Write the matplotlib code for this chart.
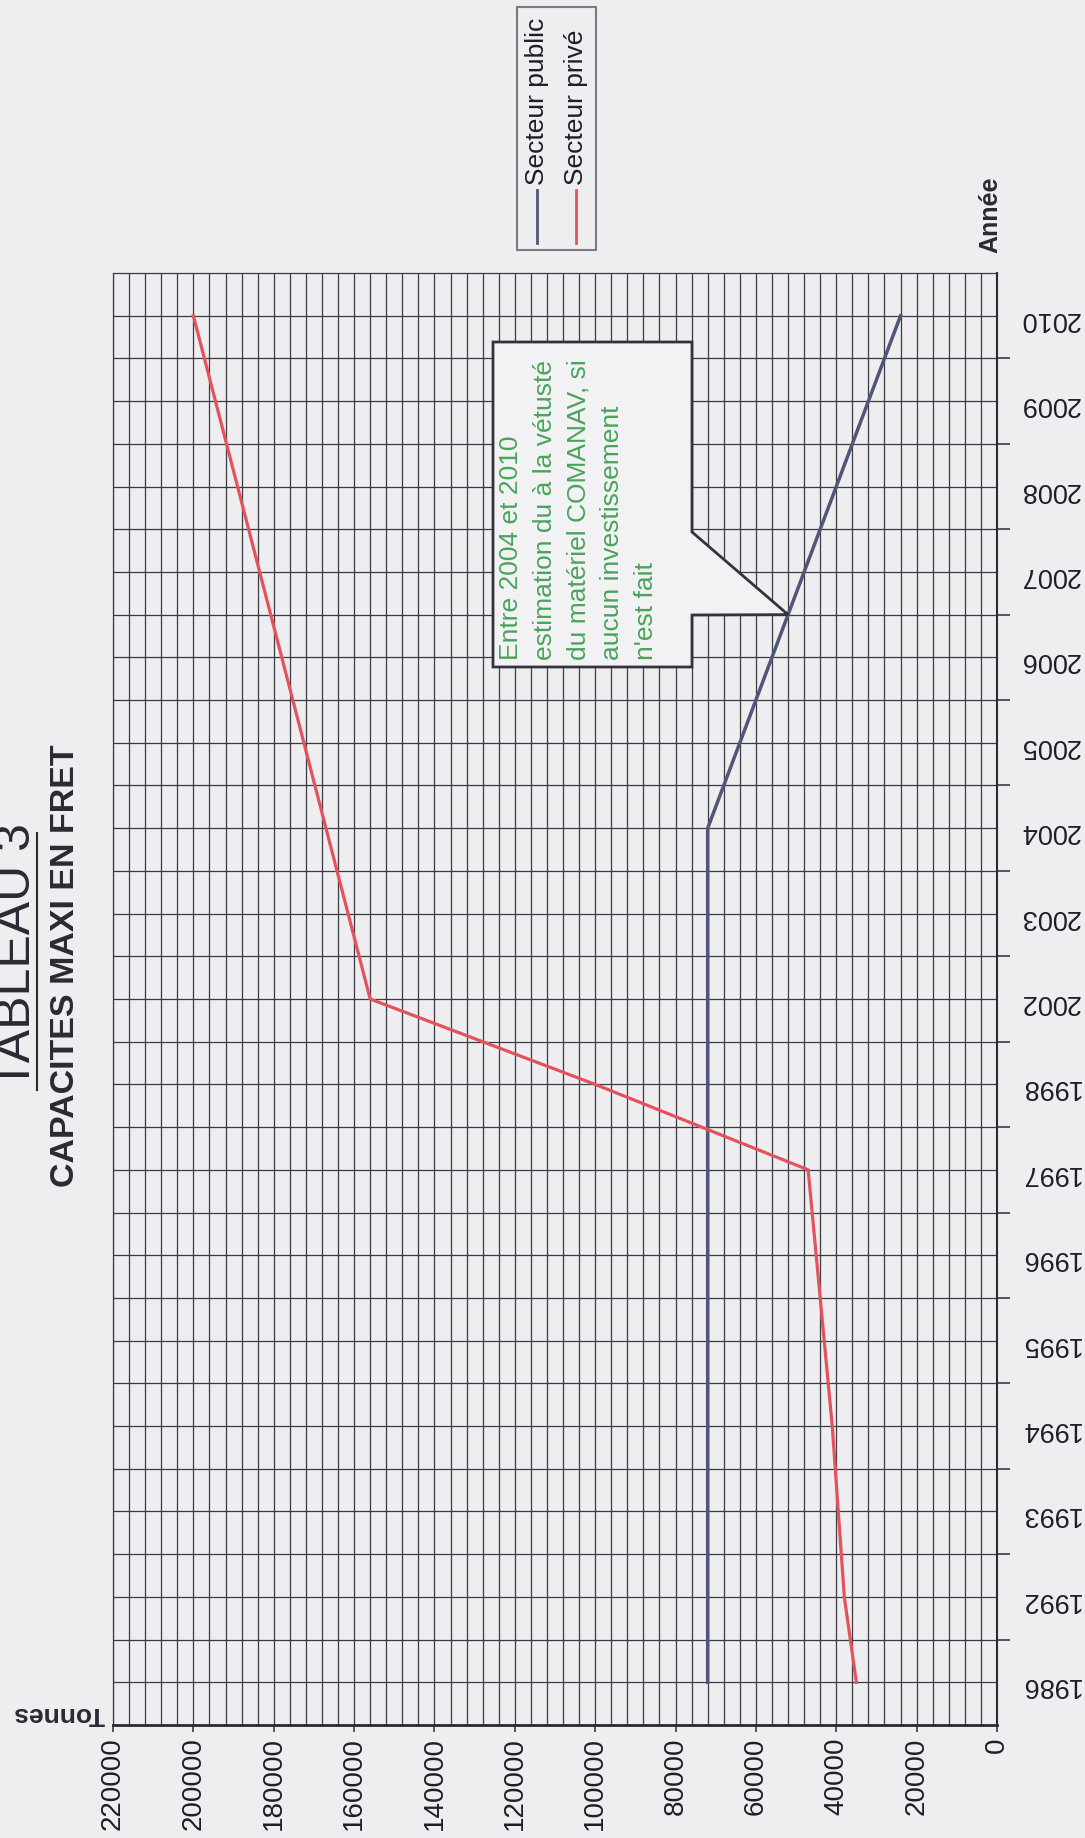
import numpy as np
import matplotlib
matplotlib.use("Agg")
import matplotlib.pyplot as plt
from matplotlib.patches import Polygon, Rectangle
from matplotlib.lines import Line2D

plt.rcParams['font.family'] = ['Liberation Sans', 'DejaVu Sans']

# Capacités maxi en fret (tonnes) par année
years = ['1986', '1992', '1993', '1994', '1995', '1996', '1997', '1998', '2002',
         '2003', '2004', '2005', '2006', '2007', '2008', '2009', '2010']
public = [72000, 72000, 72000, 72000, 72000, 72000, 72000, 72000, 72000,
          72000, 72000, 64000, 56000, 48000, 40000, 32000, 24000]
prive = [35000, 38000, 39500, 41000, 43000, 45000, 47000, 100000, 156000,
         161500, 167000, 172500, 178000, 183500, 189000, 194500, 200000]
series_names = ['Secteur public', 'Secteur privé']
note_lines = ['Entre 2004 et 2010',
              'estimation du à la vétusté',
              'du matériel COMANAV, si',
              'aucun investissement',
              "n'est fait"]

W, H = 1085, 1838
BG = '#eeeef1'
GRID = '#3b3b45'
C_PUB = '#50557a'
C_PRI = '#e4525c'
GREEN = '#4aa45a'
INK = '#1e1e26'


def fx(px):
    return px / W


def fy(py):
    return 1 - py / H


fig = plt.figure(figsize=(W / 100, H / 100), dpi=100, facecolor=BG)
ax = fig.add_axes([fx(113), fy(1725), 884 / W, 1452 / H])
ax.set_facecolor(BG)

pos = np.arange(len(years))
ax.plot(public, pos, color=C_PUB, lw=2.5, zorder=5)
ax.plot(prive, pos, color=C_PRI, lw=2.3, zorder=5)

# axe des tonnes (horizontal, inversé) et des années (vertical)
ax.set_xlim(220000, 0)
ax.set_ylim(-0.5, len(years) - 0.5)
ax.set_xticks(np.arange(0, 220001, 20000))
ax.set_xticks(np.arange(0, 220001, 4000), minor=True)
ax.set_xticklabels([str(v) for v in range(0, 220001, 20000)], rotation=90,
                   fontsize=20, color=INK)
ax.set_yticks(pos)
ax.set_yticks(pos[:-1] + 0.5, minor=True)
ax.set_yticklabels(years, rotation=180, fontsize=19.5, color=INK)
ax.yaxis.tick_right()
ax.tick_params(axis='x', which='major', length=5, width=1.2, pad=4, color=GRID)
ax.tick_params(axis='x', which='minor', length=0)
ax.tick_params(axis='y', which='major', length=0, pad=16)
ax.tick_params(axis='y', which='minor', length=9, width=1.2, color=GRID,
               direction='out')
ax.grid(which='both', color=GRID, lw=0.9)
ax.set_axisbelow(True)
for side in ['left', 'top']:
    ax.spines[side].set_color(GRID)
    ax.spines[side].set_linewidth(0.9)
ax.spines['bottom'].set_color('#2a2a33')
ax.spines['bottom'].set_linewidth(2)
ax.spines['right'].set_color('#2a2a33')
ax.spines['right'].set_linewidth(1.5)

# titres
fig.text(fx(17), fy(956), 'TABLEAU 3', rotation=90, fontsize=36,
         ha='center', va='center', color='#2a2a33')
fig.add_artist(Line2D([fx(37), fx(37)], [fy(833), fy(1090)], color='#2a2a33',
                      lw=1.5))
fig.text(fx(66), fy(966), 'CAPACITES MAXI EN FRET', rotation=90, fontsize=24.5,
         fontweight='bold', ha='center', va='center', color='#2a2a33')
fig.text(fx(990), fy(215), 'Année', rotation=90, fontsize=18, fontweight='bold',
         ha='center', va='center', color='#2a2a33')
fig.text(fx(59), fy(1714), 'Tonnes', rotation=180, fontsize=19, fontweight='bold',
         ha='center', va='center', color='#2a2a33')

# légende
fig.add_artist(Rectangle((fx(517), fy(250)), 79 / W, 243 / H, transform=fig.transFigure,
                         facecolor=BG, edgecolor='#7a7a80', lw=1.5))
for xp, name, col in zip([537, 576], series_names, [C_PUB, C_PRI]):
    fig.add_artist(Line2D([fx(xp), fx(xp)], [fy(243), fy(190)], color=col, lw=2))
    fig.text(fx(xp), fy(185), name, rotation=90, rotation_mode='anchor',
             ha='left', va='center', fontsize=19, color=INK)

# bulle d'annotation pointant sur la courbe du secteur public
tip_val = (public[12] + public[13]) / 2
tip = ax.transData.transform((tip_val, 12.5))
tip = fig.transFigure.inverted().transform(tip)
bubble = [(fx(493), fy(342)), (fx(692), fy(342)), (fx(692), fy(532)),
          (tip[0], tip[1]), (fx(692), fy(615)), (fx(692), fy(667)),
          (fx(493), fy(667))]
fig.add_artist(Polygon(bubble, closed=True, transform=fig.transFigure,
                       facecolor='#f2f2f4', edgecolor='#33333b', lw=2, zorder=10))
for i, line in enumerate(note_lines):
    fig.text(fx(511 + 33.8 * i), fy(660), line, rotation=90, rotation_mode='anchor',
             ha='left', va='center', fontsize=19, color=GREEN, zorder=11)

fig.savefig('out.png', dpi=100, facecolor=BG)
